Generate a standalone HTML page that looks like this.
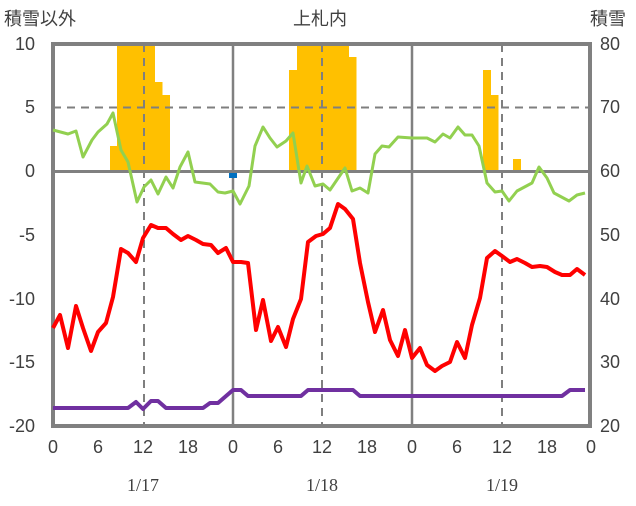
<!DOCTYPE html><html><head><meta charset="utf-8"><style>body{margin:0;background:#fff}svg text{font-family:"Liberation Sans","Noto Sans CJK JP",sans-serif;font-size:18px;fill:#404040}</style></head><body>
<svg width="636" height="501" xmlns="http://www.w3.org/2000/svg">
<g fill="#FFC000">
<rect x="110" y="146" width="7.5" height="25"/><rect x="117" y="44" width="38" height="127"/><rect x="155" y="82" width="7.5" height="89"/><rect x="162" y="95" width="8" height="76"/>
<rect x="289" y="70" width="8" height="101"/><rect x="297" y="44" width="52" height="127"/><rect x="349" y="57" width="7.5" height="114"/>
<rect x="483" y="70" width="8" height="101"/><rect x="491" y="95" width="7.5" height="76"/><rect x="513" y="159" width="8" height="12"/>
</g>
<g stroke="#7f7f7f" stroke-width="2" stroke-dasharray="8,6" fill="none">
<line x1="53" y1="107.5" x2="590" y2="107.5"/>
<line x1="144" y1="44" x2="144" y2="426"/><line x1="322" y1="44" x2="322" y2="426"/><line x1="502" y1="44" x2="502" y2="426"/>
</g>
<g stroke="#808080" stroke-width="2.5"><line x1="233" y1="44" x2="233" y2="426"/><line x1="412" y1="44" x2="412" y2="426"/><line x1="53" y1="171.5" x2="590" y2="171.5" stroke-width="3"/></g>
<rect x="53" y="44" width="537" height="382" fill="none" stroke="#808080" stroke-width="4"/>
<rect x="229" y="173" width="8" height="5" fill="#0070C0"/>
<polyline fill="none" stroke="#92D050" stroke-width="3" stroke-linejoin="round" points="53,130 68,134 76,131 83,157 92,140 98,132 107,124 113,113 121,150 128,162 137,202 144,187 151,180 158,194 166,177 173,188 180,167 188,152 195,182 210,184 218,192 225,193 233,191 240,204 249,186 255,146 263,127 270,138 277,147 286,141 293,133 301,183 307,166 315,186 323,184 330,190 345,168 352,191 360,188 368,193 375,154 382,146 389,147 398,137 412,138 427,138 435,142 443,134 450,138 458,127 465,135 472,135 479,146 487,183 495,192 502,191 509,201 517,191 532,183 539,167 547,178 554,193 569,201 577,195 585,193"/>
<polyline fill="none" stroke="#FF0000" stroke-width="4" stroke-linejoin="round" points="53,328 60,315 68,348 76,306 83,328 91,351 98,332 106,323 113,297 121,249 128,253 136,262 143,238 151,225 158,228 166,228 173,234 181,240 188,236 196,240 203,244 211,245 218,253 226,248 233,262 241,262 248,263 256,330 263,300 271,341 278,327 286,347 293,319 301,299 308,242 316,236 323,234 330,228 338,204 345,209 353,219 360,263 368,302 375,332 383,310 390,340 398,356 405,330 412,358 420,348 427,365 435,371 442,366 450,362 457,342 465,358 472,325 480,298 487,258 495,251 502,256 510,262 517,259 525,263 532,267 540,266 547,267 555,272 562,275 570,275 577,269 585,275"/>
<polyline fill="none" stroke="#7030A0" stroke-width="4" stroke-linejoin="round" points="53,408 128,408 136,402 143,409 151,401 158,401 166,408 203,408 210,403 218,403 233,390 241,390 248,396 301,396 308,390 353,390 360,396 562,396 570,390 585,390"/>
<g text-anchor="end"><text x="35" y="50">10</text><text x="35" y="113">5</text><text x="35" y="177">0</text><text x="35" y="241">-5</text><text x="35" y="305">-10</text><text x="35" y="368">-15</text><text x="35" y="432">-20</text></g>
<g><text x="600" y="50">80</text><text x="600" y="113">70</text><text x="600" y="177">60</text><text x="600" y="241">50</text><text x="600" y="305">40</text><text x="600" y="368">30</text><text x="600" y="432">20</text></g>
<g text-anchor="middle"><text x="53" y="453">0</text><text x="98" y="453">6</text><text x="143" y="453">12</text><text x="188" y="453">18</text><text x="233" y="453">0</text><text x="278" y="453">6</text><text x="322" y="453">12</text><text x="367" y="453">18</text><text x="412" y="453">0</text><text x="457" y="453">6</text><text x="502" y="453">12</text><text x="547" y="453">18</text><text x="591" y="453">0</text>
<text x="143" y="491" style="font-family:'Liberation Serif',serif">1/17</text><text x="322" y="491" style="font-family:'Liberation Serif',serif">1/18</text><text x="502" y="491" style="font-family:'Liberation Serif',serif">1/19</text>
<text x="320" y="25">上札内</text></g>
<text x="4" y="25">積雪以外</text><text x="590" y="25">積雪</text>
</svg></body></html>
